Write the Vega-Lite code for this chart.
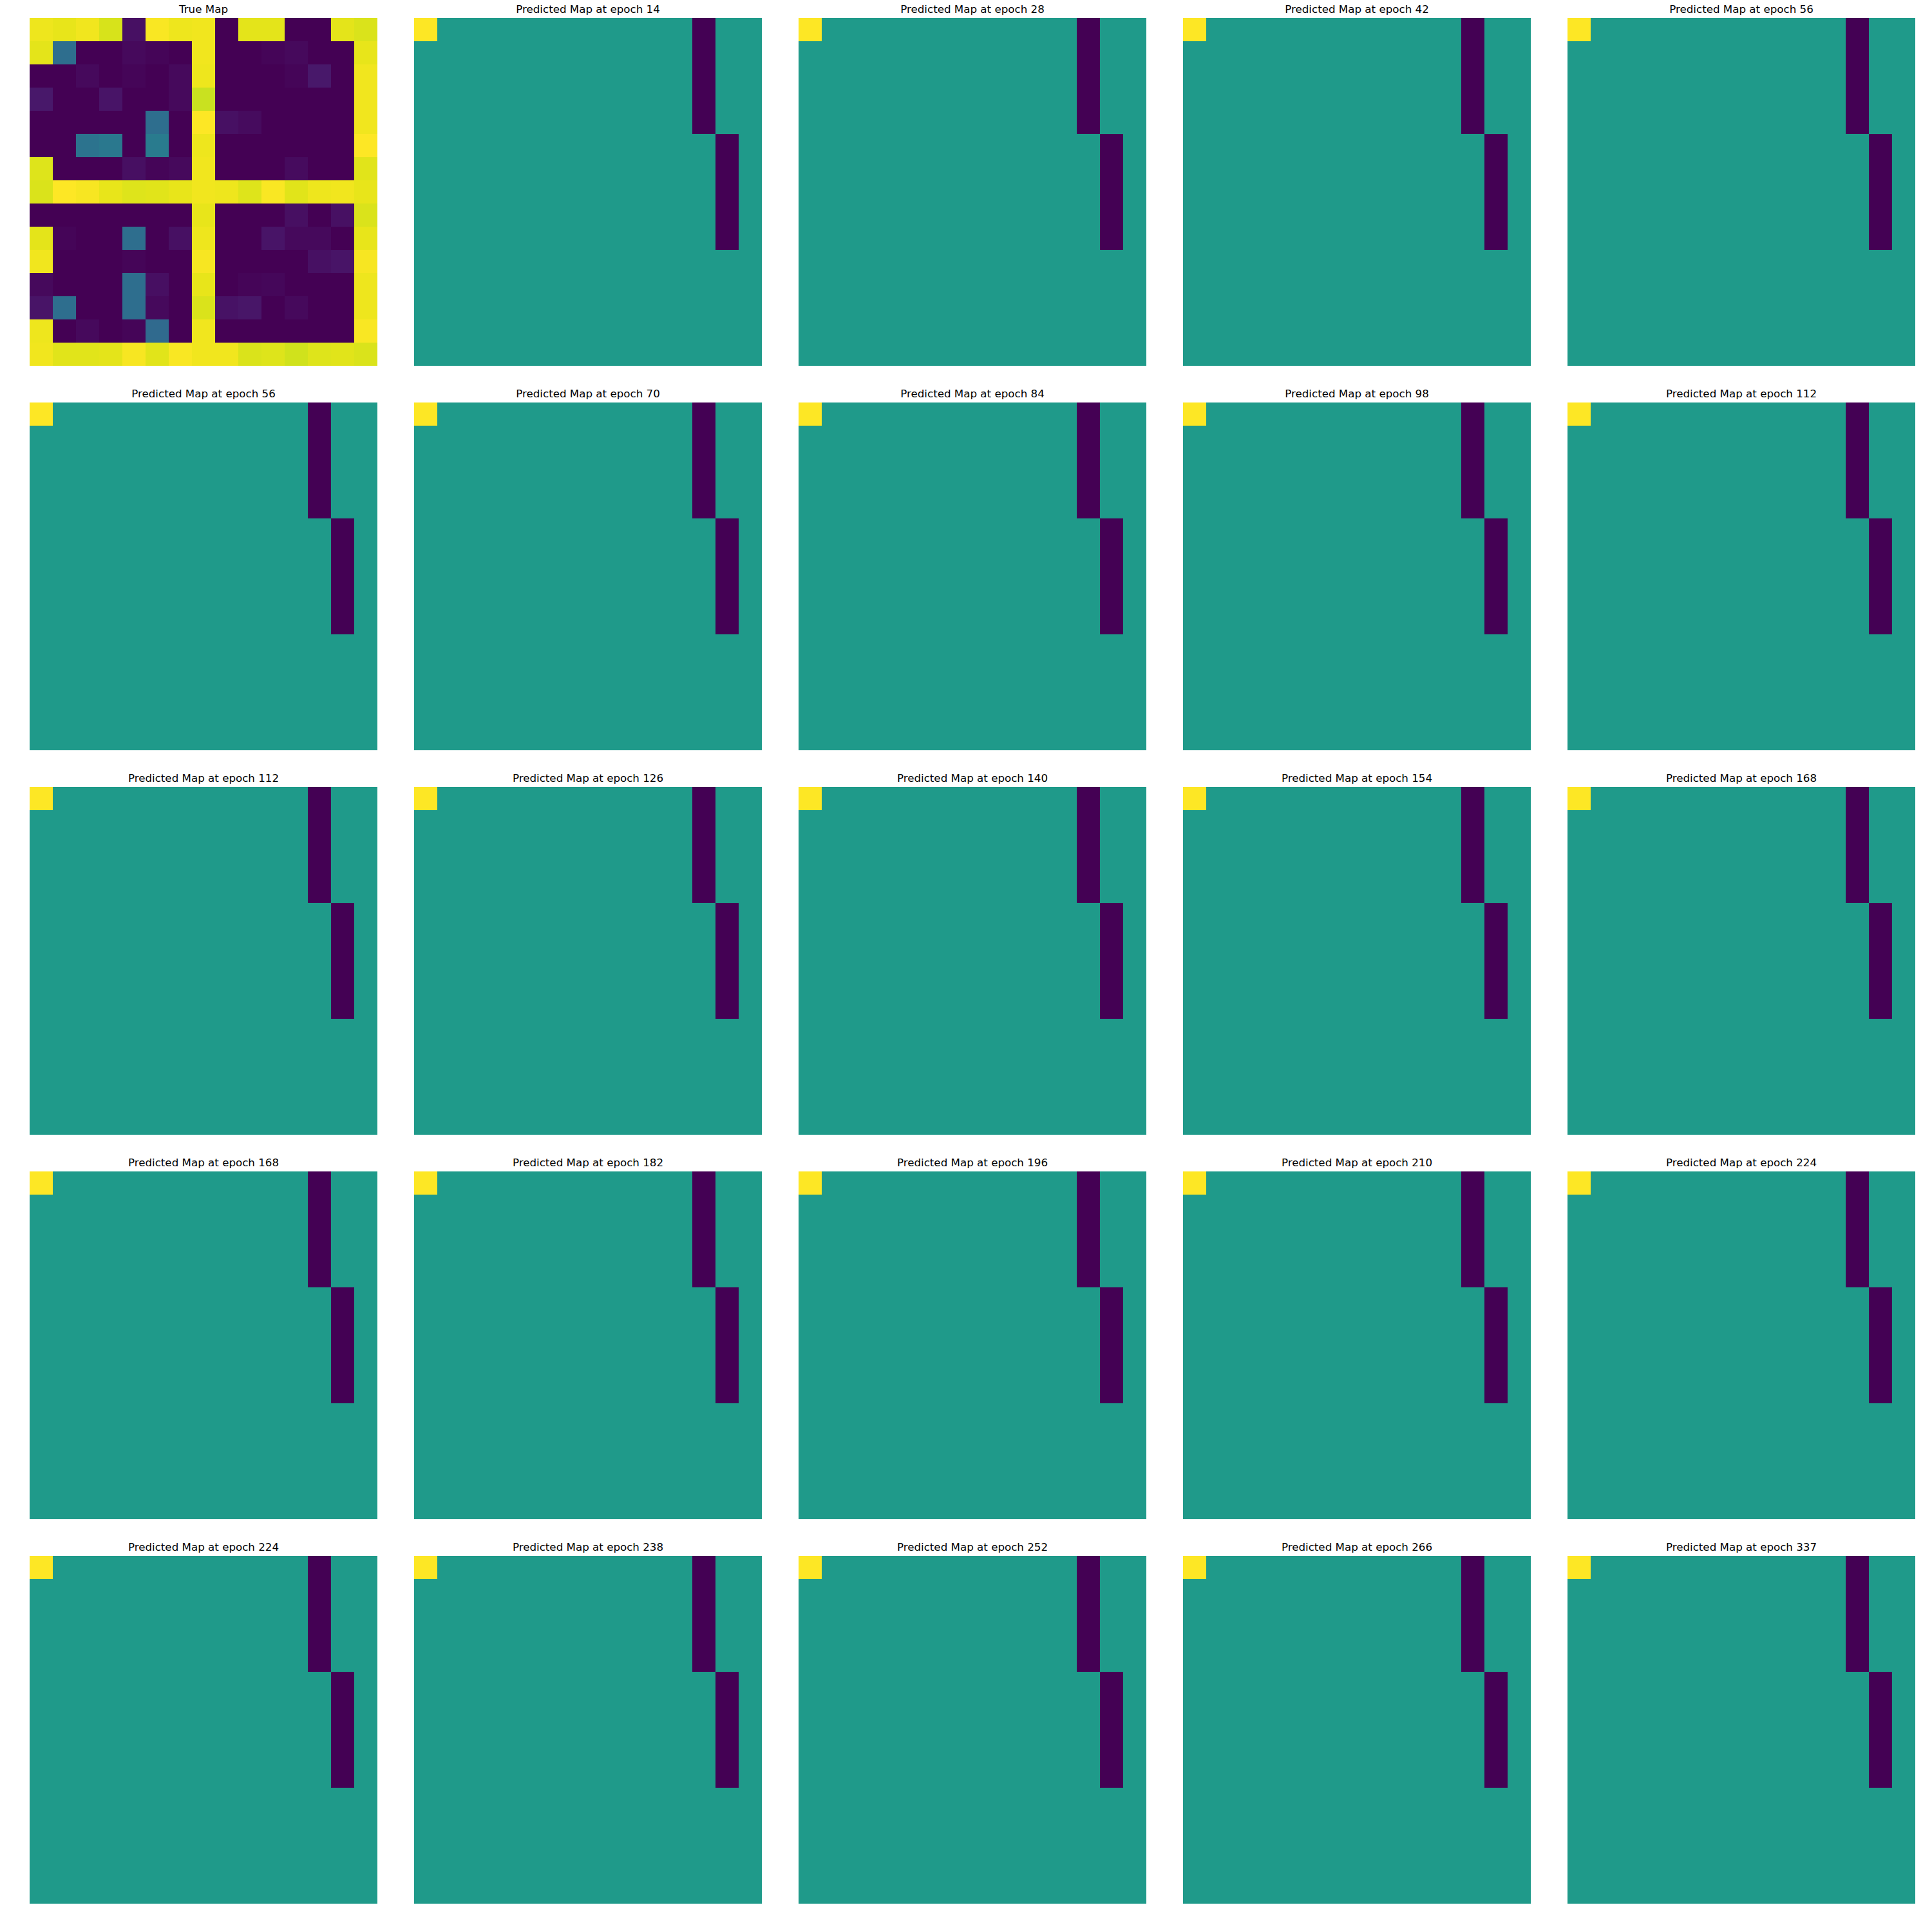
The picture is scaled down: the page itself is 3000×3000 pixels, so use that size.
{
"$schema": "https://vega.github.io/schema/vega-lite/v6.json",
"background": "white",
"padding": {"left": 46, "top": 7, "right": 0, "bottom": 0},
"bounds": "flush",
"spacing": {"row": 57, "column": 57},
"columns": 5,
"config": {
  "view": {"stroke": null},
  "title": {"font": "DejaVu Sans", "fontSize": 16.7, "fontWeight": "normal", "color": "black", "offset": 4},
  "scale": {"bandPaddingInner": 0, "bandPaddingOuter": 0}
},
"datasets": {
"truth": [
{"r":0,"c":0,"v":0.975},{"r":0,"c":1,"v":0.965},{"r":0,"c":2,"v":0.98},{"r":0,"c":3,"v":0.94},{"r":0,"c":4,"v":0.04},{"r":0,"c":5,"v":0.993},{"r":0,"c":6,"v":0.975},{"r":0,"c":7,"v":0.98},{"r":0,"c":8,"v":0},{"r":0,"c":9,"v":0.96},{"r":0,"c":10,"v":0.96},{"r":0,"c":11,"v":0},{"r":0,"c":12,"v":0},{"r":0,"c":13,"v":0.96},{"r":0,"c":14,"v":0.945},
{"r":1,"c":0,"v":0.96},{"r":1,"c":1,"v":0.36},{"r":1,"c":2,"v":0},{"r":1,"c":3,"v":0},{"r":1,"c":4,"v":0.02},{"r":1,"c":5,"v":0.01},{"r":1,"c":6,"v":0},{"r":1,"c":7,"v":0.98},{"r":1,"c":8,"v":0},{"r":1,"c":9,"v":0},{"r":1,"c":10,"v":0.01},{"r":1,"c":11,"v":0.02},{"r":1,"c":12,"v":0},{"r":1,"c":13,"v":0},{"r":1,"c":14,"v":0.965},
{"r":2,"c":0,"v":0},{"r":2,"c":1,"v":0},{"r":2,"c":2,"v":0.02},{"r":2,"c":3,"v":0},{"r":2,"c":4,"v":0.01},{"r":2,"c":5,"v":0},{"r":2,"c":6,"v":0.02},{"r":2,"c":7,"v":0.975},{"r":2,"c":8,"v":0},{"r":2,"c":9,"v":0},{"r":2,"c":10,"v":0},{"r":2,"c":11,"v":0.01},{"r":2,"c":12,"v":0.06},{"r":2,"c":13,"v":0},{"r":2,"c":14,"v":0.98},
{"r":3,"c":0,"v":0.06},{"r":3,"c":1,"v":0},{"r":3,"c":2,"v":0},{"r":3,"c":3,"v":0.05},{"r":3,"c":4,"v":0},{"r":3,"c":5,"v":0},{"r":3,"c":6,"v":0.02},{"r":3,"c":7,"v":0.92},{"r":3,"c":8,"v":0},{"r":3,"c":9,"v":0},{"r":3,"c":10,"v":0},{"r":3,"c":11,"v":0},{"r":3,"c":12,"v":0},{"r":3,"c":13,"v":0},{"r":3,"c":14,"v":0.98},
{"r":4,"c":0,"v":0},{"r":4,"c":1,"v":0},{"r":4,"c":2,"v":0},{"r":4,"c":3,"v":0},{"r":4,"c":4,"v":0},{"r":4,"c":5,"v":0.36},{"r":4,"c":6,"v":0},{"r":4,"c":7,"v":1.0},{"r":4,"c":8,"v":0.04},{"r":4,"c":9,"v":0.025},{"r":4,"c":10,"v":0},{"r":4,"c":11,"v":0},{"r":4,"c":12,"v":0},{"r":4,"c":13,"v":0},{"r":4,"c":14,"v":0.98},
{"r":5,"c":0,"v":0},{"r":5,"c":1,"v":0},{"r":5,"c":2,"v":0.38},{"r":5,"c":3,"v":0.40},{"r":5,"c":4,"v":0},{"r":5,"c":5,"v":0.41},{"r":5,"c":6,"v":0},{"r":5,"c":7,"v":0.975},{"r":5,"c":8,"v":0},{"r":5,"c":9,"v":0},{"r":5,"c":10,"v":0},{"r":5,"c":11,"v":0},{"r":5,"c":12,"v":0},{"r":5,"c":13,"v":0},{"r":5,"c":14,"v":1.0},
{"r":6,"c":0,"v":0.95},{"r":6,"c":1,"v":0},{"r":6,"c":2,"v":0},{"r":6,"c":3,"v":0},{"r":6,"c":4,"v":0.035},{"r":6,"c":5,"v":0.01},{"r":6,"c":6,"v":0.02},{"r":6,"c":7,"v":0.98},{"r":6,"c":8,"v":0},{"r":6,"c":9,"v":0},{"r":6,"c":10,"v":0},{"r":6,"c":11,"v":0.025},{"r":6,"c":12,"v":0},{"r":6,"c":13,"v":0},{"r":6,"c":14,"v":0.955},
{"r":7,"c":0,"v":0.945},{"r":7,"c":1,"v":1.0},{"r":7,"c":2,"v":0.99},{"r":7,"c":3,"v":0.965},{"r":7,"c":4,"v":0.95},{"r":7,"c":5,"v":0.955},{"r":7,"c":6,"v":0.965},{"r":7,"c":7,"v":0.98},{"r":7,"c":8,"v":0.975},{"r":7,"c":9,"v":0.95},{"r":7,"c":10,"v":0.993},{"r":7,"c":11,"v":0.955},{"r":7,"c":12,"v":0.975},{"r":7,"c":13,"v":0.98},{"r":7,"c":14,"v":0.965},
{"r":8,"c":0,"v":0},{"r":8,"c":1,"v":0},{"r":8,"c":2,"v":0},{"r":8,"c":3,"v":0},{"r":8,"c":4,"v":0},{"r":8,"c":5,"v":0},{"r":8,"c":6,"v":0},{"r":8,"c":7,"v":0.965},{"r":8,"c":8,"v":0},{"r":8,"c":9,"v":0},{"r":8,"c":10,"v":0},{"r":8,"c":11,"v":0.035},{"r":8,"c":12,"v":0},{"r":8,"c":13,"v":0.04},{"r":8,"c":14,"v":0.945},
{"r":9,"c":0,"v":0.96},{"r":9,"c":1,"v":0.01},{"r":9,"c":2,"v":0},{"r":9,"c":3,"v":0},{"r":9,"c":4,"v":0.36},{"r":9,"c":5,"v":0},{"r":9,"c":6,"v":0.04},{"r":9,"c":7,"v":0.975},{"r":9,"c":8,"v":0},{"r":9,"c":9,"v":0},{"r":9,"c":10,"v":0.05},{"r":9,"c":11,"v":0.02},{"r":9,"c":12,"v":0.02},{"r":9,"c":13,"v":0},{"r":9,"c":14,"v":0.965},
{"r":10,"c":0,"v":0.98},{"r":10,"c":1,"v":0},{"r":10,"c":2,"v":0},{"r":10,"c":3,"v":0},{"r":10,"c":4,"v":0.01},{"r":10,"c":5,"v":0},{"r":10,"c":6,"v":0},{"r":10,"c":7,"v":0.99},{"r":10,"c":8,"v":0},{"r":10,"c":9,"v":0},{"r":10,"c":10,"v":0},{"r":10,"c":11,"v":0},{"r":10,"c":12,"v":0.04},{"r":10,"c":13,"v":0.05},{"r":10,"c":14,"v":0.99},
{"r":11,"c":0,"v":0.02},{"r":11,"c":1,"v":0},{"r":11,"c":2,"v":0},{"r":11,"c":3,"v":0},{"r":11,"c":4,"v":0.36},{"r":11,"c":5,"v":0.035},{"r":11,"c":6,"v":0},{"r":11,"c":7,"v":0.965},{"r":11,"c":8,"v":0},{"r":11,"c":9,"v":0.01},{"r":11,"c":10,"v":0.015},{"r":11,"c":11,"v":0},{"r":11,"c":12,"v":0},{"r":11,"c":13,"v":0},{"r":11,"c":14,"v":0.975},
{"r":12,"c":0,"v":0.05},{"r":12,"c":1,"v":0.36},{"r":12,"c":2,"v":0},{"r":12,"c":3,"v":0},{"r":12,"c":4,"v":0.36},{"r":12,"c":5,"v":0.02},{"r":12,"c":6,"v":0},{"r":12,"c":7,"v":0.945},{"r":12,"c":8,"v":0.045},{"r":12,"c":9,"v":0.055},{"r":12,"c":10,"v":0},{"r":12,"c":11,"v":0.02},{"r":12,"c":12,"v":0},{"r":12,"c":13,"v":0},{"r":12,"c":14,"v":0.975},
{"r":13,"c":0,"v":0.975},{"r":13,"c":1,"v":0},{"r":13,"c":2,"v":0.02},{"r":13,"c":3,"v":0},{"r":13,"c":4,"v":0.01},{"r":13,"c":5,"v":0.34},{"r":13,"c":6,"v":0},{"r":13,"c":7,"v":0.98},{"r":13,"c":8,"v":0},{"r":13,"c":9,"v":0},{"r":13,"c":10,"v":0},{"r":13,"c":11,"v":0},{"r":13,"c":12,"v":0},{"r":13,"c":13,"v":0},{"r":13,"c":14,"v":0.993},
{"r":14,"c":0,"v":0.98},{"r":14,"c":1,"v":0.955},{"r":14,"c":2,"v":0.955},{"r":14,"c":3,"v":0.96},{"r":14,"c":4,"v":0.99},{"r":14,"c":5,"v":0.955},{"r":14,"c":6,"v":0.993},{"r":14,"c":7,"v":0.98},{"r":14,"c":8,"v":0.98},{"r":14,"c":9,"v":0.945},{"r":14,"c":10,"v":0.95},{"r":14,"c":11,"v":0.93},{"r":14,"c":12,"v":0.95},{"r":14,"c":13,"v":0.955},{"r":14,"c":14,"v":0.945}
],
"pred": [
{"r":0,"c":0,"v":1},{"r":0,"c":1,"v":0.54},{"r":0,"c":2,"v":0.54},{"r":0,"c":3,"v":0.54},{"r":0,"c":4,"v":0.54},{"r":0,"c":5,"v":0.54},{"r":0,"c":6,"v":0.54},{"r":0,"c":7,"v":0.54},{"r":0,"c":8,"v":0.54},{"r":0,"c":9,"v":0.54},{"r":0,"c":10,"v":0.54},{"r":0,"c":11,"v":0.54},{"r":0,"c":12,"v":0},{"r":0,"c":13,"v":0.54},{"r":0,"c":14,"v":0.54},
{"r":1,"c":0,"v":0.54},{"r":1,"c":1,"v":0.54},{"r":1,"c":2,"v":0.54},{"r":1,"c":3,"v":0.54},{"r":1,"c":4,"v":0.54},{"r":1,"c":5,"v":0.54},{"r":1,"c":6,"v":0.54},{"r":1,"c":7,"v":0.54},{"r":1,"c":8,"v":0.54},{"r":1,"c":9,"v":0.54},{"r":1,"c":10,"v":0.54},{"r":1,"c":11,"v":0.54},{"r":1,"c":12,"v":0},{"r":1,"c":13,"v":0.54},{"r":1,"c":14,"v":0.54},
{"r":2,"c":0,"v":0.54},{"r":2,"c":1,"v":0.54},{"r":2,"c":2,"v":0.54},{"r":2,"c":3,"v":0.54},{"r":2,"c":4,"v":0.54},{"r":2,"c":5,"v":0.54},{"r":2,"c":6,"v":0.54},{"r":2,"c":7,"v":0.54},{"r":2,"c":8,"v":0.54},{"r":2,"c":9,"v":0.54},{"r":2,"c":10,"v":0.54},{"r":2,"c":11,"v":0.54},{"r":2,"c":12,"v":0},{"r":2,"c":13,"v":0.54},{"r":2,"c":14,"v":0.54},
{"r":3,"c":0,"v":0.54},{"r":3,"c":1,"v":0.54},{"r":3,"c":2,"v":0.54},{"r":3,"c":3,"v":0.54},{"r":3,"c":4,"v":0.54},{"r":3,"c":5,"v":0.54},{"r":3,"c":6,"v":0.54},{"r":3,"c":7,"v":0.54},{"r":3,"c":8,"v":0.54},{"r":3,"c":9,"v":0.54},{"r":3,"c":10,"v":0.54},{"r":3,"c":11,"v":0.54},{"r":3,"c":12,"v":0},{"r":3,"c":13,"v":0.54},{"r":3,"c":14,"v":0.54},
{"r":4,"c":0,"v":0.54},{"r":4,"c":1,"v":0.54},{"r":4,"c":2,"v":0.54},{"r":4,"c":3,"v":0.54},{"r":4,"c":4,"v":0.54},{"r":4,"c":5,"v":0.54},{"r":4,"c":6,"v":0.54},{"r":4,"c":7,"v":0.54},{"r":4,"c":8,"v":0.54},{"r":4,"c":9,"v":0.54},{"r":4,"c":10,"v":0.54},{"r":4,"c":11,"v":0.54},{"r":4,"c":12,"v":0},{"r":4,"c":13,"v":0.54},{"r":4,"c":14,"v":0.54},
{"r":5,"c":0,"v":0.54},{"r":5,"c":1,"v":0.54},{"r":5,"c":2,"v":0.54},{"r":5,"c":3,"v":0.54},{"r":5,"c":4,"v":0.54},{"r":5,"c":5,"v":0.54},{"r":5,"c":6,"v":0.54},{"r":5,"c":7,"v":0.54},{"r":5,"c":8,"v":0.54},{"r":5,"c":9,"v":0.54},{"r":5,"c":10,"v":0.54},{"r":5,"c":11,"v":0.54},{"r":5,"c":12,"v":0.54},{"r":5,"c":13,"v":0},{"r":5,"c":14,"v":0.54},
{"r":6,"c":0,"v":0.54},{"r":6,"c":1,"v":0.54},{"r":6,"c":2,"v":0.54},{"r":6,"c":3,"v":0.54},{"r":6,"c":4,"v":0.54},{"r":6,"c":5,"v":0.54},{"r":6,"c":6,"v":0.54},{"r":6,"c":7,"v":0.54},{"r":6,"c":8,"v":0.54},{"r":6,"c":9,"v":0.54},{"r":6,"c":10,"v":0.54},{"r":6,"c":11,"v":0.54},{"r":6,"c":12,"v":0.54},{"r":6,"c":13,"v":0},{"r":6,"c":14,"v":0.54},
{"r":7,"c":0,"v":0.54},{"r":7,"c":1,"v":0.54},{"r":7,"c":2,"v":0.54},{"r":7,"c":3,"v":0.54},{"r":7,"c":4,"v":0.54},{"r":7,"c":5,"v":0.54},{"r":7,"c":6,"v":0.54},{"r":7,"c":7,"v":0.54},{"r":7,"c":8,"v":0.54},{"r":7,"c":9,"v":0.54},{"r":7,"c":10,"v":0.54},{"r":7,"c":11,"v":0.54},{"r":7,"c":12,"v":0.54},{"r":7,"c":13,"v":0},{"r":7,"c":14,"v":0.54},
{"r":8,"c":0,"v":0.54},{"r":8,"c":1,"v":0.54},{"r":8,"c":2,"v":0.54},{"r":8,"c":3,"v":0.54},{"r":8,"c":4,"v":0.54},{"r":8,"c":5,"v":0.54},{"r":8,"c":6,"v":0.54},{"r":8,"c":7,"v":0.54},{"r":8,"c":8,"v":0.54},{"r":8,"c":9,"v":0.54},{"r":8,"c":10,"v":0.54},{"r":8,"c":11,"v":0.54},{"r":8,"c":12,"v":0.54},{"r":8,"c":13,"v":0},{"r":8,"c":14,"v":0.54},
{"r":9,"c":0,"v":0.54},{"r":9,"c":1,"v":0.54},{"r":9,"c":2,"v":0.54},{"r":9,"c":3,"v":0.54},{"r":9,"c":4,"v":0.54},{"r":9,"c":5,"v":0.54},{"r":9,"c":6,"v":0.54},{"r":9,"c":7,"v":0.54},{"r":9,"c":8,"v":0.54},{"r":9,"c":9,"v":0.54},{"r":9,"c":10,"v":0.54},{"r":9,"c":11,"v":0.54},{"r":9,"c":12,"v":0.54},{"r":9,"c":13,"v":0},{"r":9,"c":14,"v":0.54},
{"r":10,"c":0,"v":0.54},{"r":10,"c":1,"v":0.54},{"r":10,"c":2,"v":0.54},{"r":10,"c":3,"v":0.54},{"r":10,"c":4,"v":0.54},{"r":10,"c":5,"v":0.54},{"r":10,"c":6,"v":0.54},{"r":10,"c":7,"v":0.54},{"r":10,"c":8,"v":0.54},{"r":10,"c":9,"v":0.54},{"r":10,"c":10,"v":0.54},{"r":10,"c":11,"v":0.54},{"r":10,"c":12,"v":0.54},{"r":10,"c":13,"v":0.54},{"r":10,"c":14,"v":0.54},
{"r":11,"c":0,"v":0.54},{"r":11,"c":1,"v":0.54},{"r":11,"c":2,"v":0.54},{"r":11,"c":3,"v":0.54},{"r":11,"c":4,"v":0.54},{"r":11,"c":5,"v":0.54},{"r":11,"c":6,"v":0.54},{"r":11,"c":7,"v":0.54},{"r":11,"c":8,"v":0.54},{"r":11,"c":9,"v":0.54},{"r":11,"c":10,"v":0.54},{"r":11,"c":11,"v":0.54},{"r":11,"c":12,"v":0.54},{"r":11,"c":13,"v":0.54},{"r":11,"c":14,"v":0.54},
{"r":12,"c":0,"v":0.54},{"r":12,"c":1,"v":0.54},{"r":12,"c":2,"v":0.54},{"r":12,"c":3,"v":0.54},{"r":12,"c":4,"v":0.54},{"r":12,"c":5,"v":0.54},{"r":12,"c":6,"v":0.54},{"r":12,"c":7,"v":0.54},{"r":12,"c":8,"v":0.54},{"r":12,"c":9,"v":0.54},{"r":12,"c":10,"v":0.54},{"r":12,"c":11,"v":0.54},{"r":12,"c":12,"v":0.54},{"r":12,"c":13,"v":0.54},{"r":12,"c":14,"v":0.54},
{"r":13,"c":0,"v":0.54},{"r":13,"c":1,"v":0.54},{"r":13,"c":2,"v":0.54},{"r":13,"c":3,"v":0.54},{"r":13,"c":4,"v":0.54},{"r":13,"c":5,"v":0.54},{"r":13,"c":6,"v":0.54},{"r":13,"c":7,"v":0.54},{"r":13,"c":8,"v":0.54},{"r":13,"c":9,"v":0.54},{"r":13,"c":10,"v":0.54},{"r":13,"c":11,"v":0.54},{"r":13,"c":12,"v":0.54},{"r":13,"c":13,"v":0.54},{"r":13,"c":14,"v":0.54},
{"r":14,"c":0,"v":0.54},{"r":14,"c":1,"v":0.54},{"r":14,"c":2,"v":0.54},{"r":14,"c":3,"v":0.54},{"r":14,"c":4,"v":0.54},{"r":14,"c":5,"v":0.54},{"r":14,"c":6,"v":0.54},{"r":14,"c":7,"v":0.54},{"r":14,"c":8,"v":0.54},{"r":14,"c":9,"v":0.54},{"r":14,"c":10,"v":0.54},{"r":14,"c":11,"v":0.54},{"r":14,"c":12,"v":0.54},{"r":14,"c":13,"v":0.54},{"r":14,"c":14,"v":0.54}
]
},
"concat": [
{"title":"True Map","data":{"name":"truth"},"mark":"rect","width":540,"height":540,"encoding":{"x":{"field":"c","type":"ordinal","axis":null},"y":{"field":"r","type":"ordinal","axis":null},"color":{"field":"v","type":"quantitative","scale":{"scheme":"viridis","domain":[0,1]},"legend":null}}},
{"title":"Predicted Map at epoch 14","data":{"name":"pred"},"mark":"rect","width":540,"height":540,"encoding":{"x":{"field":"c","type":"ordinal","axis":null},"y":{"field":"r","type":"ordinal","axis":null},"color":{"field":"v","type":"quantitative","scale":{"scheme":"viridis","domain":[0,1]},"legend":null}}},
{"title":"Predicted Map at epoch 28","data":{"name":"pred"},"mark":"rect","width":540,"height":540,"encoding":{"x":{"field":"c","type":"ordinal","axis":null},"y":{"field":"r","type":"ordinal","axis":null},"color":{"field":"v","type":"quantitative","scale":{"scheme":"viridis","domain":[0,1]},"legend":null}}},
{"title":"Predicted Map at epoch 42","data":{"name":"pred"},"mark":"rect","width":540,"height":540,"encoding":{"x":{"field":"c","type":"ordinal","axis":null},"y":{"field":"r","type":"ordinal","axis":null},"color":{"field":"v","type":"quantitative","scale":{"scheme":"viridis","domain":[0,1]},"legend":null}}},
{"title":"Predicted Map at epoch 56","data":{"name":"pred"},"mark":"rect","width":540,"height":540,"encoding":{"x":{"field":"c","type":"ordinal","axis":null},"y":{"field":"r","type":"ordinal","axis":null},"color":{"field":"v","type":"quantitative","scale":{"scheme":"viridis","domain":[0,1]},"legend":null}}},
{"title":"Predicted Map at epoch 56","data":{"name":"pred"},"mark":"rect","width":540,"height":540,"encoding":{"x":{"field":"c","type":"ordinal","axis":null},"y":{"field":"r","type":"ordinal","axis":null},"color":{"field":"v","type":"quantitative","scale":{"scheme":"viridis","domain":[0,1]},"legend":null}}},
{"title":"Predicted Map at epoch 70","data":{"name":"pred"},"mark":"rect","width":540,"height":540,"encoding":{"x":{"field":"c","type":"ordinal","axis":null},"y":{"field":"r","type":"ordinal","axis":null},"color":{"field":"v","type":"quantitative","scale":{"scheme":"viridis","domain":[0,1]},"legend":null}}},
{"title":"Predicted Map at epoch 84","data":{"name":"pred"},"mark":"rect","width":540,"height":540,"encoding":{"x":{"field":"c","type":"ordinal","axis":null},"y":{"field":"r","type":"ordinal","axis":null},"color":{"field":"v","type":"quantitative","scale":{"scheme":"viridis","domain":[0,1]},"legend":null}}},
{"title":"Predicted Map at epoch 98","data":{"name":"pred"},"mark":"rect","width":540,"height":540,"encoding":{"x":{"field":"c","type":"ordinal","axis":null},"y":{"field":"r","type":"ordinal","axis":null},"color":{"field":"v","type":"quantitative","scale":{"scheme":"viridis","domain":[0,1]},"legend":null}}},
{"title":"Predicted Map at epoch 112","data":{"name":"pred"},"mark":"rect","width":540,"height":540,"encoding":{"x":{"field":"c","type":"ordinal","axis":null},"y":{"field":"r","type":"ordinal","axis":null},"color":{"field":"v","type":"quantitative","scale":{"scheme":"viridis","domain":[0,1]},"legend":null}}},
{"title":"Predicted Map at epoch 112","data":{"name":"pred"},"mark":"rect","width":540,"height":540,"encoding":{"x":{"field":"c","type":"ordinal","axis":null},"y":{"field":"r","type":"ordinal","axis":null},"color":{"field":"v","type":"quantitative","scale":{"scheme":"viridis","domain":[0,1]},"legend":null}}},
{"title":"Predicted Map at epoch 126","data":{"name":"pred"},"mark":"rect","width":540,"height":540,"encoding":{"x":{"field":"c","type":"ordinal","axis":null},"y":{"field":"r","type":"ordinal","axis":null},"color":{"field":"v","type":"quantitative","scale":{"scheme":"viridis","domain":[0,1]},"legend":null}}},
{"title":"Predicted Map at epoch 140","data":{"name":"pred"},"mark":"rect","width":540,"height":540,"encoding":{"x":{"field":"c","type":"ordinal","axis":null},"y":{"field":"r","type":"ordinal","axis":null},"color":{"field":"v","type":"quantitative","scale":{"scheme":"viridis","domain":[0,1]},"legend":null}}},
{"title":"Predicted Map at epoch 154","data":{"name":"pred"},"mark":"rect","width":540,"height":540,"encoding":{"x":{"field":"c","type":"ordinal","axis":null},"y":{"field":"r","type":"ordinal","axis":null},"color":{"field":"v","type":"quantitative","scale":{"scheme":"viridis","domain":[0,1]},"legend":null}}},
{"title":"Predicted Map at epoch 168","data":{"name":"pred"},"mark":"rect","width":540,"height":540,"encoding":{"x":{"field":"c","type":"ordinal","axis":null},"y":{"field":"r","type":"ordinal","axis":null},"color":{"field":"v","type":"quantitative","scale":{"scheme":"viridis","domain":[0,1]},"legend":null}}},
{"title":"Predicted Map at epoch 168","data":{"name":"pred"},"mark":"rect","width":540,"height":540,"encoding":{"x":{"field":"c","type":"ordinal","axis":null},"y":{"field":"r","type":"ordinal","axis":null},"color":{"field":"v","type":"quantitative","scale":{"scheme":"viridis","domain":[0,1]},"legend":null}}},
{"title":"Predicted Map at epoch 182","data":{"name":"pred"},"mark":"rect","width":540,"height":540,"encoding":{"x":{"field":"c","type":"ordinal","axis":null},"y":{"field":"r","type":"ordinal","axis":null},"color":{"field":"v","type":"quantitative","scale":{"scheme":"viridis","domain":[0,1]},"legend":null}}},
{"title":"Predicted Map at epoch 196","data":{"name":"pred"},"mark":"rect","width":540,"height":540,"encoding":{"x":{"field":"c","type":"ordinal","axis":null},"y":{"field":"r","type":"ordinal","axis":null},"color":{"field":"v","type":"quantitative","scale":{"scheme":"viridis","domain":[0,1]},"legend":null}}},
{"title":"Predicted Map at epoch 210","data":{"name":"pred"},"mark":"rect","width":540,"height":540,"encoding":{"x":{"field":"c","type":"ordinal","axis":null},"y":{"field":"r","type":"ordinal","axis":null},"color":{"field":"v","type":"quantitative","scale":{"scheme":"viridis","domain":[0,1]},"legend":null}}},
{"title":"Predicted Map at epoch 224","data":{"name":"pred"},"mark":"rect","width":540,"height":540,"encoding":{"x":{"field":"c","type":"ordinal","axis":null},"y":{"field":"r","type":"ordinal","axis":null},"color":{"field":"v","type":"quantitative","scale":{"scheme":"viridis","domain":[0,1]},"legend":null}}},
{"title":"Predicted Map at epoch 224","data":{"name":"pred"},"mark":"rect","width":540,"height":540,"encoding":{"x":{"field":"c","type":"ordinal","axis":null},"y":{"field":"r","type":"ordinal","axis":null},"color":{"field":"v","type":"quantitative","scale":{"scheme":"viridis","domain":[0,1]},"legend":null}}},
{"title":"Predicted Map at epoch 238","data":{"name":"pred"},"mark":"rect","width":540,"height":540,"encoding":{"x":{"field":"c","type":"ordinal","axis":null},"y":{"field":"r","type":"ordinal","axis":null},"color":{"field":"v","type":"quantitative","scale":{"scheme":"viridis","domain":[0,1]},"legend":null}}},
{"title":"Predicted Map at epoch 252","data":{"name":"pred"},"mark":"rect","width":540,"height":540,"encoding":{"x":{"field":"c","type":"ordinal","axis":null},"y":{"field":"r","type":"ordinal","axis":null},"color":{"field":"v","type":"quantitative","scale":{"scheme":"viridis","domain":[0,1]},"legend":null}}},
{"title":"Predicted Map at epoch 266","data":{"name":"pred"},"mark":"rect","width":540,"height":540,"encoding":{"x":{"field":"c","type":"ordinal","axis":null},"y":{"field":"r","type":"ordinal","axis":null},"color":{"field":"v","type":"quantitative","scale":{"scheme":"viridis","domain":[0,1]},"legend":null}}},
{"title":"Predicted Map at epoch 337","data":{"name":"pred"},"mark":"rect","width":540,"height":540,"encoding":{"x":{"field":"c","type":"ordinal","axis":null},"y":{"field":"r","type":"ordinal","axis":null},"color":{"field":"v","type":"quantitative","scale":{"scheme":"viridis","domain":[0,1]},"legend":null}}}
]
}
